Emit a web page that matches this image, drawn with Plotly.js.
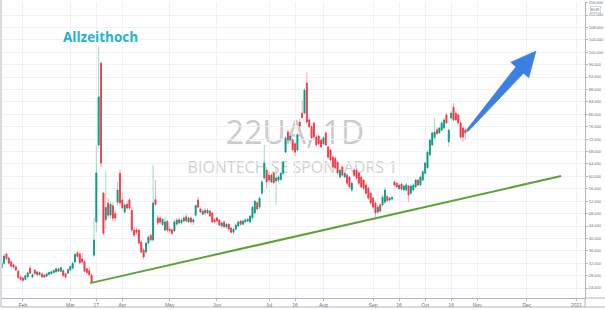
<!DOCTYPE html>
<html><head><meta charset="utf-8">
<script src="https://cdn.plot.ly/plotly-3.0.1.min.js"></script>
<style>html,body{margin:0;padding:0;background:#fff}#chart{width:605px;height:310px}</style>
</head><body><div id="chart"></div><script>
// ---- data (22UA daily candles, EUR) ----
const firstDay = '2020-01-21';
const holidays = ['2020-04-10','2020-04-13','2020-05-01','2020-12-24','2020-12-25','2020-12-31'];
const open = [30.5,32,35,33.7,32.4,31.5,30.8,29.5,27.5,27.2,
26.8,27.6,30.4,27.6,29.8,29.2,28.3,28.5,28.2,27.8,
28.4,28.6,29,29.2,30.2,29.4,29.6,28.6,28.8,29.8,
30.4,32.4,35.4,35,33.4,32.5,30.2,29.6,28.2,34.6,
45.3,70.1,96.5,54.6,46,51.4,47.5,50.5,48,51.7,
61,52.4,48.5,51,52.4,49,42.7,42.7,42.7,38.8,
36.3,35.6,38.5,41,39.5,52.5,46.6,46.6,44.5,42.7,
45.5,43,42.7,42.4,44.6,46,45,45.6,47,45.3,
46.6,45.3,47.5,52.4,49.5,47.8,49.1,48.2,48.8,48.2,
46,46.6,45.9,44,45.3,43.7,44.6,43.3,42,43,
44,45.6,44.6,45.3,45.6,45.3,46.6,48.2,51.5,50.1,
54.6,59.5,62,60.4,58.2,61.1,58.5,58.8,59,61,
67.8,74.3,71.7,71.7,70.5,68.5,77.5,80.4,80.4,90.1,
78.2,76,77.2,72.7,73,71.7,70.5,74,69.5,68.5,
66.2,65.8,64.6,59.8,63,59.8,60.4,59.8,55.6,62,
62,61.1,59.8,58.8,57.2,56.2,54.6,53,51.4,48.5,
50.8,50.8,51.7,53.5,52.4,52.7,58.2,57.8,56,57.5,
55.6,55.6,56.9,54.6,55.6,56.6,58.8,57.2,58.8,61,
62.8,66.9,70.1,72.5,75,74,74.9,75.6,79.8,71.1,
78.8,82.3,80.4,79.8,77.2,75.6,74.9];
const high = [33,35,35.5,34.2,33,32,31.5,29.8,28,27.6,
28.3,29.3,31.4,28.8,30.2,29.6,29.4,28.9,28.5,28.9,
29.2,29.6,30,30.5,30.6,30.9,30.2,29,30.4,31.4,
32.5,35.3,36,35.5,35.3,33,30.6,31,28.6,46.6,
70.1,101.7,97,55,62,53,52,51.5,49,58.2,
62,54.6,51.5,52,53,50,43.5,43.5,43,39.5,
36.9,39,41,41.5,63.6,58.8,47.5,47,46.6,47,
46,44,43.3,46,46.5,46.6,46.5,47.5,48,47,
47,46.6,51,53.5,50,49.5,49.8,49.8,49.2,48.5,
46.6,47,46.3,45.6,45.9,45,45,43.8,43.5,44.8,
45.8,46,46,46.5,46.6,47.5,50.5,52.5,52,53.5,
58.8,70.1,63,61.5,61,61.5,63,60.4,61.5,65,
73,75,74,72.5,71,74,78.5,84.5,88.5,93.6,
79,76.5,77.5,73.3,73.5,72,73,74.5,70,69,
66.8,66.5,65,62.5,63.5,61.5,61,60.2,58.5,62.8,
62.5,61.5,60.2,59.2,57.8,56.6,55,53.5,52,50.8,
51.4,54,56.5,54,53.5,53.8,58.8,58.2,57.8,58,
57.5,57.8,57.2,57.5,57.8,59.3,59.2,60.3,62,64.8,
68.3,72.2,74.5,78.8,75.8,76,77.7,78.8,80.5,75.5,
81,83.6,81,80.3,77.8,76.2,75.8];
const low = [30,31.5,33,31.6,30.5,30.2,29.5,27,26.3,26,
26.4,27.3,28.5,27.2,28.3,28,28,27.3,27.3,27.6,
28.2,28.4,28.8,29,29.1,29.2,27.7,27.2,28.5,29.5,
30.2,32,33.8,31.8,32,29,28.6,28,25.6,34,
42,69,63,41,43,46.5,46.5,45.5,45.5,50.5,
50.5,49.5,48,49.2,49,42,40.5,41.2,38,35,
33.2,35,38,39,39,50.5,44.3,44.5,44,42.4,
42,41.5,41,42,44,44.5,44.5,45.2,45.2,45,
44.5,44.3,47,49.8,48,47.5,47.5,47.8,46.8,45,
44.8,45.2,43.8,43.5,43.3,43,42.4,41.5,41.2,42.5,
43.5,44,44.2,45,45.2,45,46.2,47.8,49,49.5,
54,59,56,58,57.8,57.5,50.8,58.2,58.5,60.5,
67.5,71,70.5,68,66.5,68,74.5,78.5,80,77,
75.5,72,72.2,69.5,70,69,70,69.8,65.8,64.8,
62.5,62.2,60.5,59.3,60,59.3,57.2,56,55,59.8,
59,57.2,56,55.6,54,52.4,50.8,49.5,46.9,47.8,
48.2,50.2,51,51.7,51.8,52.2,56.6,56,55.6,55.3,
55.2,55,51.7,54,55.2,56.2,56.8,56.8,58.4,60.6,
62.4,66.5,69.8,72,73.3,73.6,74.5,75.2,76.8,69.5,
78.2,77.8,77.8,76.5,72.2,71.1,71.7];
const close = [32,34.3,33.5,32,31,30.8,29.8,27.3,26.8,26.5,
28,28.9,28.8,28.3,28.7,28.3,29,27.6,27.6,28.6,
29,29.3,29.7,30.2,29.4,30.6,28,27.5,30,31,
32,34.8,34.2,32.2,32.4,29.4,29,28.3,26,39.5,
61.1,85.6,64.3,41.7,50,47.5,51,46.5,46.6,55.6,
51.4,49.8,50.8,49.8,49.8,42.7,41.1,42,38.5,35.6,
34,38.5,40.4,39.5,51.4,51,45,45.3,46.2,45.3,
42.7,42.4,41.7,45.3,45.9,45,45.9,46.6,45.6,46.6,
45.3,46,50.6,50.1,48.5,48.8,48.2,49.1,47.2,45.3,
45.3,45.6,44.3,45,43.7,44.6,43,42,43,44.3,
45.3,44.6,45.6,46,46.2,47.2,50.1,52,49.5,53,
58.2,64.3,58.2,58.8,60.4,58,59.5,59.8,61,64.6,
72.4,71.7,73,68.5,67.8,73.3,76.2,79,87.8,77.5,
76,72.4,72.7,70.1,70.5,69.5,72.4,70.1,66.2,65.3,
63,62.7,61.1,62,60.4,61,57.8,56.6,57.8,60.4,
59.5,57.8,56.6,56.2,54.6,53,51.4,50.1,48.2,50.1,
48.8,53.3,55.6,52.2,53,53.2,57.2,56.6,57.2,55.9,
56.9,57.2,54,56.9,57.2,58.8,57.2,59.8,61.5,64.3,
67.8,71.7,74,74.3,73.8,75.6,77.2,78.2,77.2,74.9,
80.4,78.2,78.2,77.2,72.7,72.7,74];
const tickDates = ['2020-02-03','2020-03-02','2020-03-17','2020-04-01','2020-05-04','2020-06-01','2020-07-01','2020-07-16','2020-08-03','2020-09-01','2020-09-16','2020-10-01','2020-10-16','2020-11-02','2020-12-01','2021-01-04'];
const tickLabels = ['Feb','Mar','17','Apr','May','Jun','Jul','16','Aug','Sep','16','Oct','16','Nov','Dec','2021'];
const priceTicks = [24,28,32,36,40,44,48,52,56,60,64,68,72,76,80,84,88,92,96,100,104,108,112,116];
const trendDates = ['2020-03-12 08:00','2020-12-21 12:00'];
const trendPrices = [25.6,60.1];
const symbolText = '22UA, 1D';
const nameText = 'BIONTECH SE SPON. ADRS 1';
const noteText = 'Allzeithoch';
const currencyText = 'EUR';

// ---- helpers ----
function tradingDays(start, n){
  const out=[]; const d=new Date(start+'T00:00:00Z');
  while(out.length<n){
    const dow=d.getUTCDay(); const s=d.toISOString().slice(0,10);
    if(dow!==0 && dow!==6 && !holidays.includes(s)) out.push(s);
    d.setUTCDate(d.getUTCDate()+1);
  }
  return out;
}
const dates = tradingDays(firstDay, close.length);
const bodyHigh = open.map((o,i)=>Math.max(o,close[i]));
const bodyLow = open.map((o,i)=>Math.min(o,close[i]));

const W=605,H=310, M={l:2,r:20,t:2,b:12};
const PW=W-M.l-M.r, PH=H-M.t-M.b;
const px=x=>(x-M.l)/PW, py=y=>(H-M.b-y)/PH;

const UP='#089981', DN='#f23645', UPW='#9fd8cf', DNW='#f8a9ae';

const traces = [
  {type:'candlestick', x:dates, open:open, high:high, low:low, close:close,
   increasing:{line:{color:UPW,width:1},fillcolor:UPW},
   decreasing:{line:{color:DNW,width:1},fillcolor:DNW},
   whiskerwidth:0, hoverinfo:'skip', showlegend:false},
  {type:'candlestick', x:dates, open:open, high:bodyHigh, low:bodyLow, close:close,
   increasing:{line:{color:UP,width:0.8},fillcolor:UP},
   decreasing:{line:{color:DN,width:0.8},fillcolor:DN},
   whiskerwidth:0, hoverinfo:'skip', showlegend:false},
  {type:'scatter', mode:'lines', x:trendDates, y:trendPrices,
   line:{color:'#5ea33a',width:2}, hoverinfo:'skip', showlegend:false}
];

// arrow polygon (pixels)
const arrowPts=[[466.2,130.3],[515.9,66.7],[510.6,62.2],[536,51],[528.8,77.8],[523.5,73.3],[467.8,131.7]];
const arrowPath='M '+arrowPts.map(p=>px(p[0]).toFixed(4)+','+py(p[1]).toFixed(4)).join(' L ')+' Z';

const gridC='#eef1f5', axC='#b2b5be', txtC='#6a6d78';

const layout = {
  width:W, height:H, margin:M, paper_bgcolor:'#fff', plot_bgcolor:'#fff',
  font:{family:'Liberation Sans, Arial, sans-serif', color:txtC},
  boxmode:'overlay', boxgap:0.45, showlegend:false,
  xaxis:{type:'date', range:['2020-01-21 03:00','2021-01-07 14:00'],
    rangebreaks:[{bounds:['sat','mon']},{values:holidays}],
    tickvals:tickDates, ticktext:tickLabels, tickfont:{size:5,color:txtC},
    ticks:'outside', ticklen:2, tickcolor:axC, showgrid:true, gridcolor:gridC, gridwidth:1,
    showline:true, linecolor:axC, linewidth:1, zeroline:false, rangeslider:{visible:false}, fixedrange:true},
  yaxis:{side:'right', range:[20.8,116.2], tickvals:priceTicks, tickformat:'.3f',
    tickfont:{size:4,color:txtC}, ticks:'outside', ticklen:2, tickcolor:axC,
    showgrid:true, gridcolor:gridC, gridwidth:1, showline:true, linecolor:axC, linewidth:1,
    zeroline:false, fixedrange:true},
  shapes:[
    {type:'rect', xref:'paper', yref:'paper', x0:px(200), x1:px(390), y0:py(150), y1:py(117), layer:'below',
     line:{width:0}, fillcolor:'rgba(0,0,0,0)',
     label:{text:symbolText, textposition:'middle center', font:{size:32,color:'#cbcbcb',family:'Open Sans, sans-serif'}}},
    {type:'rect', xref:'paper', yref:'paper', x0:px(170), x1:px(415), y0:py(178), y1:py(158), layer:'below',
     line:{width:0}, fillcolor:'rgba(0,0,0,0)',
     label:{text:nameText, textposition:'middle center', font:{size:16,color:'#d0d0d0',family:'Open Sans, sans-serif'}}},
    {type:'path', xref:'paper', yref:'paper', path:arrowPath, fillcolor:'#3d80e3', line:{color:'#3a7bdc',width:0.5}},
    {type:'line', xref:'paper', yref:'paper', x0:px(1), x1:px(1), y0:py(307), y1:py(0), line:{color:axC,width:1}},
    {type:'line', xref:'paper', yref:'paper', x0:px(1), x1:px(605), y0:py(307), y1:py(307), line:{color:axC,width:1}},
    {type:'line', xref:'paper', yref:'paper', x0:px(585), x1:px(605), y0:py(298), y1:py(298), line:{color:axC,width:1}},
    {type:'line', xref:'paper', yref:'paper', x0:px(585), x1:px(585), y0:py(298), y1:py(307), line:{color:axC,width:1}}
  ],
  annotations:[
    {xref:'paper', yref:'paper', x:px(100), y:py(37), text:'<b>'+noteText+'</b>', showarrow:false,
     font:{size:13.5,color:'#1fb2d4',family:'Open Sans, sans-serif'}, xanchor:'center', yanchor:'middle'},
    {xref:'paper', yref:'paper', x:px(595), y:py(9), text:currencyText, showarrow:false,
     font:{size:4,color:txtC}, bordercolor:axC, borderwidth:0.5, borderpad:0.5, xanchor:'center', yanchor:'middle'}
  ]
};
Plotly.newPlot('chart', traces, layout, {staticPlot:true, displayModeBar:false});
</script></body></html>
